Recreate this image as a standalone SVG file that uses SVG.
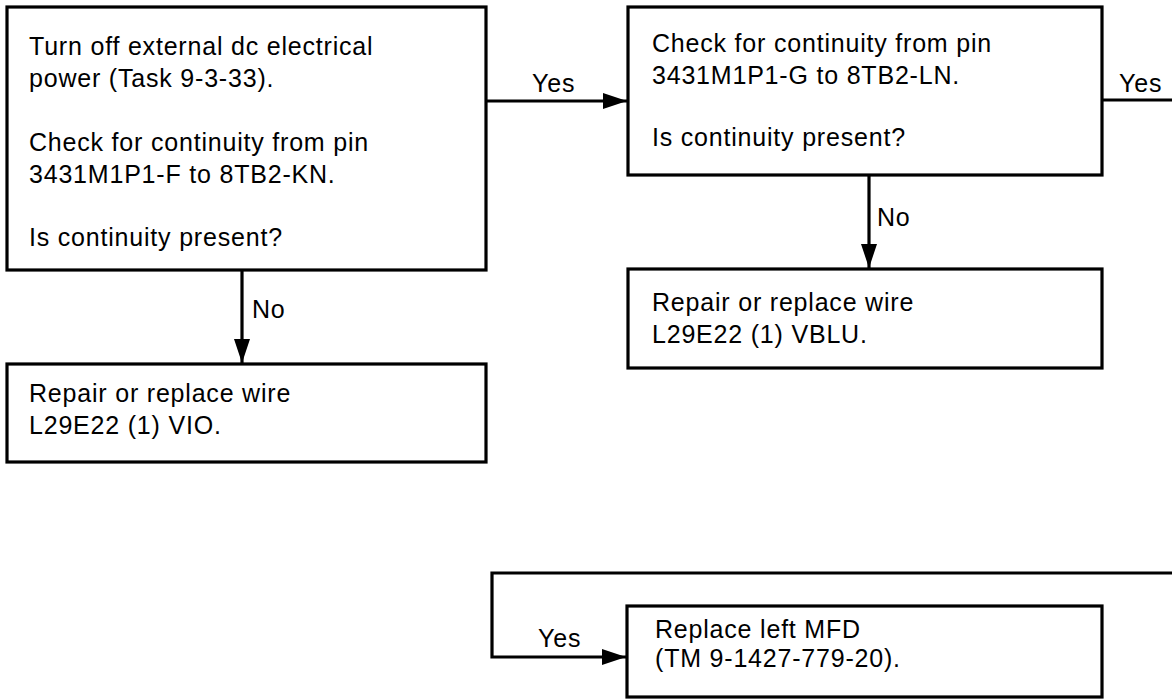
<svg xmlns="http://www.w3.org/2000/svg" width="1172" height="700" viewBox="0 0 1172 700">
<style>
.box{fill:#fff;stroke:#000;stroke-width:3.2}
.t{font-family:"Liberation Sans",Arial,sans-serif;font-size:25px;letter-spacing:0.8px;fill:#000}
.c{fill:none;stroke:#000;stroke-width:3.2}
</style>
<defs>
<marker id="ah" markerUnits="userSpaceOnUse" markerWidth="26" markerHeight="18" refX="24" refY="8" orient="auto">
<path d="M0,0 L24,8 L0,16 Z" fill="#000"/>
</marker>
</defs>
<rect width="1172" height="700" fill="#fff"/>
<g id="connectors">
<line class="c" x1="486" y1="101" x2="627" y2="101" marker-end="url(#ah)"/>
<line class="c" x1="1102" y1="100" x2="1172" y2="100"/>
<line class="c" x1="242" y1="270" x2="242" y2="363" marker-end="url(#ah)"/>
<line class="c" x1="869" y1="175" x2="869" y2="268" marker-end="url(#ah)"/>
<polyline class="c" points="1172,573 492,573 492,657 626,657" marker-end="url(#ah)"/>
<text class="t" x="532" y="92">Yes</text>
<text class="t" x="1119" y="92">Yes</text>
<text class="t" x="252" y="318">No</text>
<text class="t" x="877" y="226">No</text>
<text class="t" x="538" y="647">Yes</text>
</g>
<g id="node1">
<rect class="box" x="7" y="7" width="479" height="263"/>
<text class="t" x="29" y="55">Turn off external dc electrical</text>
<text class="t" x="29" y="87">power (Task 9-3-33).</text>
<text class="t" x="29" y="151">Check for continuity from pin</text>
<text class="t" x="29" y="183">3431M1P1-F to 8TB2-KN.</text>
<text class="t" x="29" y="246">Is continuity present?</text>
</g>
<g id="node2">
<rect class="box" x="628" y="7" width="474" height="168"/>
<text class="t" x="652" y="52">Check for continuity from pin</text>
<text class="t" x="652" y="84">3431M1P1-G to 8TB2-LN.</text>
<text class="t" x="652" y="146">Is continuity present?</text>
</g>
<g id="node3">
<rect class="box" x="7" y="364" width="479" height="98"/>
<text class="t" x="29" y="402">Repair or replace wire</text>
<text class="t" x="29" y="434">L29E22 (1) VIO.</text>
</g>
<g id="node4">
<rect class="box" x="628" y="269" width="474" height="99"/>
<text class="t" x="652" y="311">Repair or replace wire</text>
<text class="t" x="652" y="343">L29E22 (1) VBLU.</text>
</g>
<g id="node5">
<rect class="box" x="627" y="606" width="475" height="91"/>
<text class="t" x="655" y="638">Replace left MFD</text>
<text class="t" x="655" y="667">(TM 9-1427-779-20).</text>
</g>
</svg>
